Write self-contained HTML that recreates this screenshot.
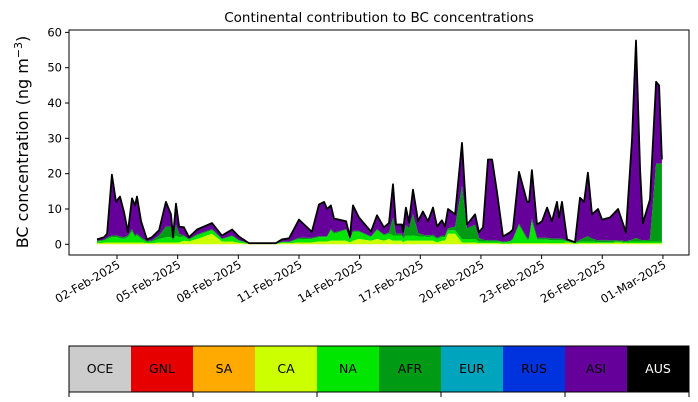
<!DOCTYPE html>
<html><head><meta charset="utf-8"><style>
html,body{margin:0;padding:0;background:#fff;width:698px;height:402px;overflow:hidden}
svg{font-family:"DejaVu Sans","Liberation Sans",sans-serif}
</style></head><body>
<svg id="chart" width="698" height="402" viewBox="0 0 698 402">
<text x="379" y="22" font-size="13.5" text-anchor="middle">Continental contribution to BC concentrations</text>
<text transform="translate(28,142) rotate(-90)" font-size="16" text-anchor="middle">BC concentration (ng m<tspan dy="-6" font-size="11">−3</tspan><tspan dy="6">)</tspan></text>
<g id="areas"></g>
<g id="axes"></g>
<g id="cbar"></g>
</svg>
<script>
const times=[1.01,1.36,1.51,1.75,1.95,2.15,2.35,2.54,2.74,2.89,2.99,3.19,3.48,3.73,4.08,4.42,4.67,4.77,4.92,5.07,5.31,5.56,5.96,6.70,7.19,7.69,8.03,8.53,9.86,10.16,10.51,11.00,11.64,11.99,12.24,12.39,12.58,12.73,13.33,13.52,13.67,13.97,14.56,14.86,15.20,15.45,15.65,15.80,16.09,16.14,16.29,16.44,16.64,16.89,17.13,17.38,17.63,17.83,18.07,18.22,18.37,18.72,19.06,19.31,19.71,19.90,20.10,20.35,20.55,20.79,21.09,21.44,21.58,21.88,22.28,22.38,22.52,22.77,23.02,23.27,23.51,23.76,23.86,24.01,24.26,24.65,24.90,25.10,25.29,25.49,25.79,25.99,26.38,26.78,27.17,27.47,27.67,27.87,28.01,28.36,28.66,28.81,28.95];
const total=[1.4,2,3,19.7,12,13.5,9,3.5,13,11,13.5,6.5,1.4,2,4,12,8.5,2,11.5,5,4.8,2,4.2,6,2.5,4.2,2.2,0.3,0.3,1.4,1.7,7,3.5,11.3,12,10,11,7.3,6.5,2.2,11,7.6,3.6,8.2,4.8,6,17,5.6,5.6,3.6,10.4,6.2,15.5,6.5,9.3,6.5,10.4,5,6.8,5,10,8.5,28.7,5.6,8.5,3.4,4.8,24,24,15,2.2,3.4,4.2,20.5,12,12,21,5.6,6.5,10.4,6.5,12,7.6,12,1.4,0.6,13.2,12,20.3,8.5,10,7,7.6,10,3.4,29.6,57.7,21,6,12.7,46,45,24];
const caVals=[.3,.4,.5,.5,.5,.5,.5,.5,.5,.5,.5,.5,.3,.3,.5,.5,.5,.5,.5,.5,1,.8,1.5,3,.8,.8,.4,.1,.1,.3,.3,.5,.5,.8,.8,.8,1,1,1,.5,1,1.5,1,1.5,1,1.5,1,1,1,.5,1,1,1,1,1,1,1,.5,1,1,3,3,.5,.5,.5,.3,.3,.3,.3,.3,.2,.2,.3,.3,.3,.3,.3,.3,.3,.3,.3,.3,.3,.3,.5,.2,.3,.3,.3,.3,.3,.3,.3,.5,.3,.3,.3,.3,.3,.3,.3,.3,.3];
const naVals=[.5,.6,1,1.5,1.5,1.2,1,1.5,3,1.5,2,1,.3,.5,1,1.5,1.5,.5,2,1.5,1.2,.5,1,1,.6,1.5,.6,.1,.1,.3,.3,1,1,1.2,1.2,1.2,3,2,3,.6,2.5,2,1,2.5,1.5,1.5,1.5,1.5,1.5,1,1.5,1.5,1.5,1.2,1.2,1,1.2,1,1,1,1,1,1,1,1,.5,.5,.5,.5,.5,.3,.5,1,5,1,1,6,1,1,1,.8,.8,.8,.8,.3,.1,.5,.5,.5,.5,.3,.3,.3,.3,.3,.5,.5,.5,.5,.5,.5,.5,.5];
const afrVals=[.2,.3,.3,.5,.5,.5,.5,.5,.8,.5,.5,.5,.3,.3,1,3,3,.5,3,1,.3,.2,.3,.3,.2,.2,.2,.05,.05,.1,.1,.3,.3,.3,.3,.3,.3,.3,.3,.2,.3,.3,.2,.3,.3,.3,5,.5,.5,.3,3,2,6,1,.5,.5,.5,.3,.5,.5,.5,1,15,3,4,1,.5,.3,.3,.3,.2,.2,.3,.5,.5,.5,1,.5,.5,.5,.5,.5,.5,.5,.2,.1,.5,1,1.5,.8,.5,.5,.5,.3,.3,.5,1,.5,.3,.5,22,22,22];
const yTicks=[0,10,20,30,40,50,60];
const xTickDays=[2,5,8,11,14,17,20,23,26,29];
const xTickLabels=["02-Feb-2025","05-Feb-2025","08-Feb-2025","11-Feb-2025","14-Feb-2025","17-Feb-2025","20-Feb-2025","23-Feb-2025","26-Feb-2025","01-Mar-2025"];
const regions=["OCE","GNL","SA","CA","NA","AFR","EUR","RUS","ASI","AUS"];
const regionColors=["#cccccc","#e60000","#ffaa00","#ccff00","#00e600","#009a14","#00a5bd","#0033dd","#66009a","#000000"];

const NS="http://www.w3.org/2000/svg";
const L=69,R=689,T=30,B=255;
const xs=d=>117+(d-2)*20.22;
const ys=v=>244.3-v*3.532;
function mk(tag,attrs,parent){const e=document.createElementNS(NS,tag);for(const k in attrs)e.setAttribute(k,attrs[k]);parent.appendChild(e);return e;}
const areas=document.getElementById('areas'),axes=document.getElementById('axes'),cbar=document.getElementById('cbar');

// stacked layers
const n=times.length;
const c1=[],c2=[],c3=[];
for(let i=0;i<n;i++){c1.push(caVals[i]);c2.push(c1[i]+naVals[i]);c3.push(c2[i]+afrVals[i]);}
const zero=times.map(()=>0);
function band(lo,hi,color,name){
  let d='';
  for(let i=0;i<n;i++)d+=(i?'L':'M')+xs(times[i]).toFixed(1)+','+ys(hi[i]).toFixed(1);
  for(let i=n-1;i>=0;i--)d+='L'+xs(times[i]).toFixed(1)+','+ys(lo[i]).toFixed(1);
  const p=mk('path',{d:d+'Z',fill:color,stroke:'none'},areas);
  
  
}
band(c3,total,'#66009a','area-asi');
band(c2,c3,'#009a14','area-afr');
band(c1,c2,'#00e600','area-na');
band(zero,c1,'#ccff00','area-ca');
let ld='';
for(let i=0;i<n;i++)ld+=(i?'L':'M')+xs(times[i]).toFixed(1)+','+ys(total[i]).toFixed(1);
const line=mk('path',{d:ld,fill:'none',stroke:'#000','stroke-width':1.8,'stroke-linejoin':'round'},areas);



// frame
const fr=mk('rect',{x:L,y:T,width:R-L,height:B-T,fill:'none',stroke:'#000','stroke-width':1},axes);


yTicks.forEach(v=>{
  const y=ys(v);
  mk('line',{x1:L-4,x2:L,y1:y,y2:y,stroke:'#000'},axes);
  const t=mk('text',{x:L-7,y:y+4,'font-size':11.5,'text-anchor':'end'},axes);
  t.textContent=v;
  
  
});
xTickDays.forEach((d,i)=>{
  const x=xs(d);
  mk('line',{x1:x,x2:x,y1:B,y2:B+4,stroke:'#000'},axes);
  const t=mk('text',{x:x+4,y:B+12,'font-size':11.5,'text-anchor':'end',transform:'rotate(-30 '+(x+4)+' '+(B+12)+')'},axes);
  t.textContent=xTickLabels[i];
  
  
});

// colorbar
const cw=(R-L)/regions.length;
regions.forEach((r,i)=>{
  const rc=mk('rect',{x:L+i*cw,y:346,width:cw+0.5,height:46,fill:regionColors[i]},cbar);
  
  
  const t=mk('text',{x:L+i*cw+cw/2,y:373,'font-size':12.5,'text-anchor':'middle',fill:r==='AUS'?'#fff':'#000'},cbar);
  t.textContent=r;
  
  
});
mk('rect',{x:L,y:346,width:R-L,height:46,fill:'none',stroke:'#000','stroke-width':1},cbar);
for(let k=0;k<=5;k++){const x=L+k*2*cw;mk('line',{x1:x,x2:x,y1:392,y2:397,stroke:'#000'},cbar);}
</script>
</body></html>
